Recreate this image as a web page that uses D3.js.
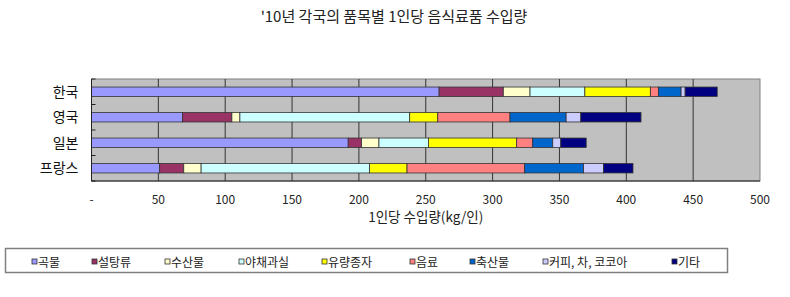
<!DOCTYPE html>
<html>
<head>
<meta charset="utf-8">
<script src="https://cdn.jsdelivr.net/npm/d3@7"></script>
<style>
  body { margin: 0; background: white; }
  text { font-family: "Noto Sans CJK KR", "DejaVu Sans", sans-serif; }
</style>
</head>
<body>
<div id="chart"></div>
<script>
// Data (kg per person)
const countries = ['한국', '영국', '일본', '프랑스'];
const items = ['곡물', '설탕류', '수산물', '야채과실', '유량종자', '음료', '축산물', '커피, 차, 코코아', '기타'];
const korea  = [260, 48, 20, 41, 49, 6, 17, 3, 24];
const uk     = [68, 37, 6, 127, 21, 54, 42, 11, 45];
const japan  = [192, 10, 13, 37, 66, 12, 15, 6, 19];
const france = [51, 18, 13, 126, 28, 88, 44, 15, 22];
const xTicks = [0, 50, 100, 150, 200, 250, 300, 350, 400, 450, 500];
const colorList = ['#9999ff', '#993366', '#ffffcc', '#ccffff', '#ffff00', '#ff8080', '#0066cc', '#ccccff', '#000080'];

const title = "'10년 각국의 품목별 1인당 음식료품 수입량";
const xTitle = '1인당 수입량(kg/인)';

const width = 790, height = 297;
const margin = { top: 79, right: 30, bottom: 116, left: 91.5 };

const svg = d3.select('#chart').append('svg')
    .attr('width', width)
    .attr('height', height)
    .style('background', 'white');

// Build table for stacking
const rows = countries.map((c, i) => {
    const vals = [korea, uk, japan, france][i];
    const r = { country: c };
    items.forEach((k, j) => r[k] = vals[j]);
    return r;
});
const stacked = d3.stack().keys(items)(rows);

const xScale = d3.scaleLinear()
    .domain([0, 500])
    .range([margin.left, width - margin.right]);

const yScale = d3.scaleBand()
    .domain(countries)
    .range([margin.top, height - margin.bottom])
    .paddingInner(0.63)
    .paddingOuter(0.315);

const colors = d3.scaleOrdinal().domain(items).range(colorList);

const plotTop = margin.top, plotBottom = height - margin.bottom;

// Plot background
svg.append('rect')
    .attr('x', xScale(0))
    .attr('y', plotTop)
    .attr('width', xScale(500) - xScale(0))
    .attr('height', plotBottom - plotTop)
    .attr('fill', '#c0c0c0')
    .attr('stroke', '#808080')
    .attr('stroke-width', 1);

// Vertical grid
svg.append('g')
    .selectAll('line').data(xTicks.slice(1, -1))
    .enter().append('line')
        .attr('x1', d => xScale(d))
        .attr('x2', d => xScale(d))
        .attr('y1', plotTop)
        .attr('y2', plotBottom)
        .attr('stroke', '#333')
        .attr('stroke-width', 1);

// Bars
svg.append('g')
    .selectAll('g').data(stacked)
    .enter().append('g')
        .attr('fill', d => colors(d.key))
    .selectAll('rect').data(d => d)
    .enter().append('rect')
        .attr('x', d => xScale(d[0]))
        .attr('y', d => yScale(d.data.country))
        .attr('width', d => xScale(d[1]) - xScale(d[0]))
        .attr('height', yScale.bandwidth())
        .attr('stroke', '#333')
        .attr('stroke-width', 0.8);

// Left axis
const yAxis = svg.append('g')
    .attr('transform', `translate(${xScale(0)},0)`);
yAxis.append('line')
    .attr('x1', 0).attr('x2', 0)
    .attr('y1', plotTop).attr('y2', plotBottom)
    .attr('stroke', '#222');
yAxis.selectAll('line.tk').data(d3.range(countries.length + 1))
    .enter().append('line')
        .attr('class', 'tk')
        .attr('x1', 0).attr('x2', 4)
        .attr('y1', i => plotTop + i * (plotBottom - plotTop) / countries.length)
        .attr('y2', i => plotTop + i * (plotBottom - plotTop) / countries.length)
        .attr('stroke', '#222');
yAxis.selectAll('text').data(countries)
    .enter().append('text')
        .attr('x', -13)
        .attr('y', d => yScale(d) + yScale.bandwidth() / 2)
        .attr('dy', '0.35em')
        .attr('text-anchor', 'end')
        .attr('font-size', '14px')
        .attr('fill', '#111')
        .text(d => d);

// Bottom axis line
svg.append('line')
    .attr('x1', xScale(0)).attr('x2', xScale(500))
    .attr('y1', plotBottom).attr('y2', plotBottom)
    .attr('stroke', '#222');

// Bottom tick labels
svg.append('g')
    .selectAll('text').data(xTicks)
    .enter().append('text')
        .attr('x', d => xScale(d))
        .attr('y', 199.5)
        .attr('dy', '0.35em')
        .attr('text-anchor', 'middle')
        .attr('font-size', '12px')
        .attr('fill', '#222')
        .text(d => d === 0 ? '-' : d);

// Axis title
svg.append('text')
    .attr('x', (xScale(0) + xScale(500)) / 2)
    .attr('y', 217)
    .attr('dy', '0.35em')
    .attr('text-anchor', 'middle')
    .attr('font-size', '13.5px')
    .attr('fill', '#222')
    .text(xTitle);

// Title
svg.append('text')
    .attr('x', 394)
    .attr('y', 17)
    .attr('dy', '0.35em')
    .attr('text-anchor', 'middle')
    .attr('font-size', '15px')
    .attr('fill', '#222')
    .text(title);

// Legend
svg.append('rect')
    .attr('x', 5.5).attr('y', 248.5)
    .attr('width', 722).attr('height', 24)
    .attr('fill', 'white')
    .attr('stroke', '#808080')
    .attr('stroke-width', 1.5);

const legendX = [32, 92, 165, 239, 322, 410, 470, 543, 672];
const legend = svg.append('g')
    .selectAll('g').data(items)
    .enter().append('g')
        .attr('transform', (d, i) => `translate(${legendX[i]},0)`);
legend.append('rect')
    .attr('x', 0).attr('y', 259)
    .attr('width', 5).attr('height', 5)
    .attr('fill', d => colors(d))
    .attr('stroke', '#333')
    .attr('stroke-width', 0.8);
legend.append('text')
    .attr('x', 6)
    .attr('y', 263)
    .attr('dy', '0.35em')
    .attr('font-size', '12px')
    .attr('fill', '#222')
    .text(d => d);
</script>
</body>
</html>
